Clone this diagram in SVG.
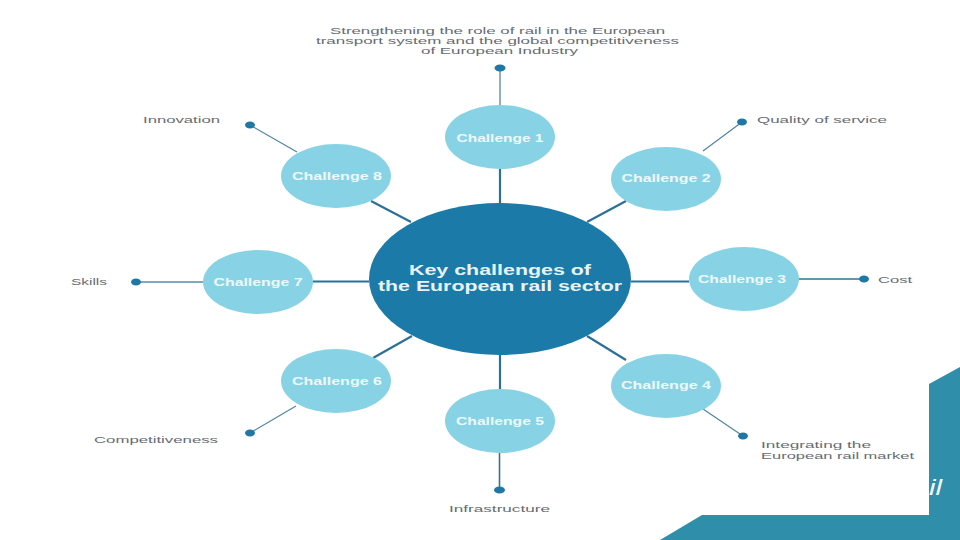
<svg xmlns="http://www.w3.org/2000/svg" width="960" height="540" viewBox="0 0 960 540">
<style>
.c{fill:#87d3e5}
.t{font-family:"Liberation Sans",Arial,sans-serif;font-size:9px;fill:#666c74}
.w{font-family:"Liberation Sans",Arial,sans-serif;font-size:10px;font-weight:bold;fill:#eef9fc;text-anchor:middle}
.k{font-family:"Liberation Sans",Arial,sans-serif;font-size:14px;font-weight:bold;fill:#e6f4f8;text-anchor:middle}
.l{stroke:#2b7097;stroke-width:2.2;fill:none}
.o{stroke:#4a83a3;stroke-width:1.1;fill:none}
.b{stroke:#2f7599;stroke-width:1.6;fill:none}
.p{stroke:#7fa9bd;stroke-width:1.8;fill:none}
.d{fill:#1f77a6}
</style>
<g id="background"><path d="M929 384L960 367V540H660L702 515H929Z" fill="#2f8ea9"/>
<text x="929" y="495" font-family="Liberation Sans,sans-serif" font-style="italic" font-size="22" fill="#f4fbfd" textLength="13" lengthAdjust="spacingAndGlyphs">il</text></g>
<g id="connectors">
<path class="p" d="M500 68V105M136 282H203"/>
<path class="l" d="M500 169V203M500 355V389M631 281.500H689M369 281.500H313"/>
<path class="l" d="M626 201L587 222M411 222L371 201M587 336L626 360M412 336L373 358"/>
<path class="o" d="M742 122L703 151M250 125L297 152M703 409L743 436M296 406L250 433"/>
<path class="b" d="M499.500 453V490M799 279H864"/>
</g>
<g id="dots">
<ellipse class="d" cx="500" cy="68" rx="5.500" ry="3.500"/><ellipse class="d" cx="742" cy="122" rx="5" ry="3.500"/><ellipse class="d" cx="864" cy="279" rx="5" ry="3.500"/><ellipse class="d" cx="743" cy="436" rx="5" ry="3.500"/><ellipse class="d" cx="499.500" cy="490" rx="5.500" ry="3.500"/><ellipse class="d" cx="250" cy="433" rx="5" ry="3.500"/><ellipse class="d" cx="136" cy="282" rx="5" ry="3.500"/><ellipse class="d" cx="250" cy="125" rx="5" ry="3.500"/>
</g>
<g id="center"><ellipse cx="500" cy="279" rx="131" ry="76" fill="#1c7aa8"/>
<text class="k" x="500" y="275" textLength="182" lengthAdjust="spacingAndGlyphs">Key challenges of</text>
<text class="k" x="500" y="291" textLength="244" lengthAdjust="spacingAndGlyphs">the European rail sector</text></g>
<g id="c1"><ellipse class="c" cx="500" cy="137" rx="55" ry="32"/><text class="w" x="500" y="142" textLength="87" lengthAdjust="spacingAndGlyphs">Challenge 1</text></g>
<g id="c2"><ellipse class="c" cx="666" cy="179" rx="55" ry="32"/><text class="w" x="666" y="182" textLength="89" lengthAdjust="spacingAndGlyphs">Challenge 2</text></g>
<g id="c3"><ellipse class="c" cx="744" cy="279" rx="55" ry="32"/><text class="w" x="742" y="283" textLength="88" lengthAdjust="spacingAndGlyphs">Challenge 3</text></g>
<g id="c4"><ellipse class="c" cx="666" cy="386" rx="55" ry="32"/><text class="w" x="666" y="389" textLength="90" lengthAdjust="spacingAndGlyphs">Challenge 4</text></g>
<g id="c5"><ellipse class="c" cx="500" cy="421" rx="55" ry="32"/><text class="w" x="500" y="425" textLength="88" lengthAdjust="spacingAndGlyphs">Challenge 5</text></g>
<g id="c6"><ellipse class="c" cx="336" cy="381" rx="55" ry="32"/><text class="w" x="337" y="385" textLength="90" lengthAdjust="spacingAndGlyphs">Challenge 6</text></g>
<g id="c7"><ellipse class="c" cx="258" cy="282" rx="55" ry="32"/><text class="w" x="258" y="286" textLength="89" lengthAdjust="spacingAndGlyphs">Challenge 7</text></g>
<g id="c8"><ellipse class="c" cx="336" cy="176" rx="55" ry="32"/><text class="w" x="337" y="180" textLength="90" lengthAdjust="spacingAndGlyphs">Challenge 8</text></g>
<g id="labels">
<text class="t" x="330" y="34" textLength="335" lengthAdjust="spacingAndGlyphs">Strengthening the role of rail in the European</text>
<text class="t" x="316" y="44" textLength="363" lengthAdjust="spacingAndGlyphs">transport system and the global competitiveness</text>
<text class="t" x="421" y="54" textLength="157" lengthAdjust="spacingAndGlyphs">of European Industry</text>
<text class="t" x="143" y="123" textLength="77" lengthAdjust="spacingAndGlyphs">Innovation</text>
<text class="t" x="757" y="123" textLength="130" lengthAdjust="spacingAndGlyphs">Quality of service</text>
<text class="t" x="878" y="283" textLength="34" lengthAdjust="spacingAndGlyphs">Cost</text>
<text class="t" x="71" y="285" textLength="36" lengthAdjust="spacingAndGlyphs">Skills</text>
<text class="t" x="94" y="443" textLength="124" lengthAdjust="spacingAndGlyphs">Competitiveness</text>
<text class="t" x="761" y="448" textLength="110" lengthAdjust="spacingAndGlyphs">Integrating the</text>
<text class="t" x="761" y="458.500" textLength="153" lengthAdjust="spacingAndGlyphs">European rail market</text>
<text class="t" x="449" y="512" textLength="101" lengthAdjust="spacingAndGlyphs">Infrastructure</text>
</g>
</svg>
